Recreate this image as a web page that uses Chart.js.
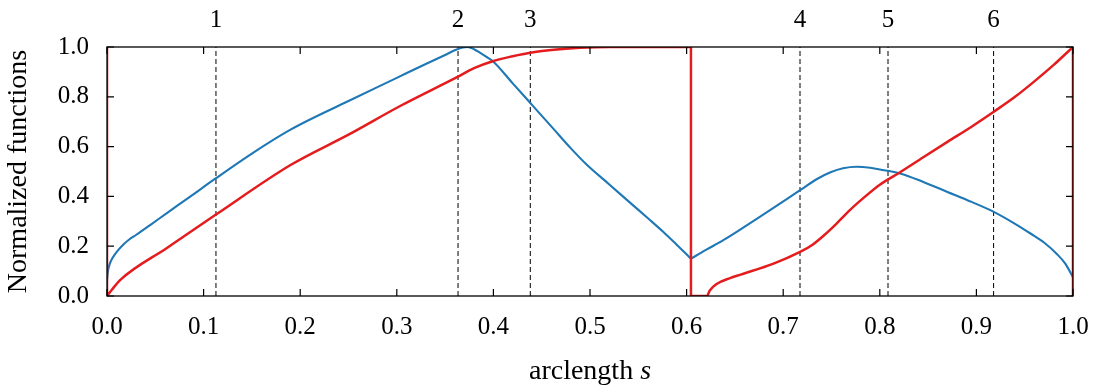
<!DOCTYPE html>
<html lang="en">
<head>
  <meta charset="UTF-8">
  <title>Normalized functions along the arc</title>
  <script src="https://cdn.jsdelivr.net/npm/chart.js"></script>
  <style>
    html, body { margin: 0; padding: 0; background: #fff; }
    #wrap { width: 1101px; height: 388px; position: relative; }
  </style>
</head>
<body>
  <div id="wrap"><canvas id="plot"></canvas></div>

  <script>
    // blue curve: arclength samples and normalized values (null splits the kink at s = 0.6045)
    const blueS = [0, 0.001, 0.0025, 0.005, 0.008, 0.012, 0.017, 0.023, 0.03, 0.045, 0.062, 0.085, 0.1128, 0.15, 0.19,
      0.25, 0.3, 0.33, 0.35, 0.362, 0.373, 0.38, 0.386, 0.392, 0.4, 0.42, 0.438, 0.462, 0.48, 0.497, 0.52, 0.542,
      0.56, 0.576, 0.59, 0.6045, 0.6045, 0.6045, 0.62, 0.638, 0.673, 0.7175, 0.735, 0.749, 0.762, 0.776, 0.79, 0.8,
      0.821, 0.845, 0.87, 0.895, 0.918, 0.94, 0.956, 0.97, 0.983, 0.992, 1.0];
    const blueV = [0.065, 0.1, 0.125, 0.148, 0.166, 0.186, 0.207, 0.227, 0.245, 0.286, 0.333, 0.396, 0.473, 0.572, 0.668,
      0.783, 0.876, 0.932, 0.968, 0.99, 1.0, 0.991, 0.977, 0.962, 0.941, 0.854, 0.776, 0.672, 0.594, 0.526, 0.448, 0.373,
      0.312, 0.257, 0.205, 0.15, null, 0.15, 0.185, 0.224, 0.311, 0.425, 0.47, 0.497, 0.513, 0.519, 0.515, 0.508,
      0.492, 0.458, 0.418, 0.378, 0.338, 0.29, 0.251, 0.215, 0.17, 0.13, 0.075];

    // red curve: closing edges at s = 0 and s = 1 and the jump at s = 0.6045 (null splits the pieces)
    const redS = [0, 0, 0,
      0, 0.005, 0.0138, 0.062, 0.1128, 0.19, 0.25, 0.3035, 0.3634, 0.38, 0.4, 0.42, 0.438, 0.46, 0.49, 0.52, 0.56, 0.6045,
      0.6045, 0.6045, 0.6045, 0.6045,
      0.6045, 0.614, 0.621, 0.624, 0.631, 0.645, 0.656, 0.69, 0.7175, 0.73, 0.742, 0.755, 0.769, 0.785, 0.8, 0.821,
      0.845, 0.87, 0.895, 0.918, 0.94, 0.96, 0.98, 1.0,
      1.0, 1.0, 1.0];
    const redV = [1.0, 0, null,
      0, 0.025, 0.065, 0.193, 0.327, 0.526, 0.648, 0.763, 0.881, 0.915, 0.944, 0.963, 0.977, 0.988, 0.997, 1.0, 1.0, 1.0,
      null, 1.0, 0, null,
      0, 0, 0, 0.022, 0.048, 0.072, 0.086, 0.13, 0.177, 0.205, 0.243, 0.29, 0.345, 0.4, 0.447, 0.497,
      0.557, 0.619, 0.68, 0.74, 0.8, 0.862, 0.928, 1.0,
      null, 1.0, 0];

    // numbered stations
    const markS = [0.1128, 0.3634, 0.4382, 0.7174, 0.8085, 0.9178];
    const markLabels = ['1', '2', '3', '4', '5', '6'];

    const xTicks = [0, 0.1, 0.2, 0.3, 0.4, 0.5, 0.6, 0.7, 0.8, 0.9, 1.0];
    const yTicks = [0, 0.2, 0.4, 0.6, 0.8, 1.0];

    const FONT = "'Liberation Serif', 'Times New Roman', serif";
    const BLUE = 'rgb(31,120,182)';
    const RED = 'rgb(228,28,30)';

    const toPts = (xs, ys) => xs.map((s, i) => ({ x: s, y: ys[i] }));

    const datasets = [
      { label: 'red', data: toPts(redS, redV), borderColor: RED, borderWidth: 2.5, cubicInterpolationMode: 'monotone' },
      { label: 'blue', data: toPts(blueS, blueV), borderColor: BLUE, borderWidth: 2.1, cubicInterpolationMode: 'monotone' }
    ];
    markS.forEach(s => {
      datasets.push({
        label: 'mark', data: [{ x: s, y: 0 }, { x: s, y: 1 }],
        borderColor: '#000', borderWidth: 1, borderDash: [5, 3]
      });
    });

    // frame, inward tick marks and the x-axis title
    const framePlugin = {
      id: 'frame',
      afterDatasetsDraw(chart) {
        const { ctx, chartArea: a, scales } = chart;
        const len = 7;
        ctx.save();
        ctx.strokeStyle = '#000';
        ctx.lineWidth = 1.3;
        ctx.strokeRect(a.left, a.top, a.right - a.left, a.bottom - a.top);
        ctx.lineWidth = 1.2;
        ctx.beginPath();
        xTicks.forEach(v => {
          const px = scales.x.getPixelForValue(v);
          ctx.moveTo(px, a.bottom); ctx.lineTo(px, a.bottom - len);
          ctx.moveTo(px, a.top); ctx.lineTo(px, a.top + len);
        });
        yTicks.forEach(v => {
          const py = scales.y.getPixelForValue(v);
          ctx.moveTo(a.left, py); ctx.lineTo(a.left + len, py);
          ctx.moveTo(a.right, py); ctx.lineTo(a.right - len, py);
        });
        ctx.stroke();

        // "arclength s" with an italic s
        const main = 'arclength ';
        ctx.fillStyle = '#000';
        ctx.textBaseline = 'alphabetic';
        ctx.font = `28px ${FONT}`;
        const w1 = ctx.measureText(main).width;
        ctx.font = `italic 28px ${FONT}`;
        const w2 = ctx.measureText('s').width;
        const x0 = (a.left + a.right) / 2 - (w1 + w2) / 2;
        ctx.font = `28px ${FONT}`;
        ctx.fillText(main, x0, 379);
        ctx.font = `italic 28px ${FONT}`;
        ctx.fillText('s', x0 + w1, 379);
        ctx.restore();
      }
    };

    new Chart(document.getElementById('plot'), {
      type: 'line',
      data: { datasets },
      options: {
        responsive: true,
        maintainAspectRatio: false,
        animation: false,
        layout: { padding: { left: 0, right: 28, top: 0, bottom: 0 } },
        elements: { point: { radius: 0 }, line: { tension: 0, fill: false } },
        plugins: { legend: { display: false }, tooltip: { enabled: false } },
        scales: {
          x: {
            type: 'linear', position: 'bottom', min: 0, max: 1,
            afterBuildTicks: sc => { sc.ticks = xTicks.map(v => ({ value: v })); },
            afterFit: sc => { sc.height = 92; sc.paddingLeft = 0; sc.paddingRight = 0; },
            grid: { display: false, drawTicks: false },
            border: { display: false },
            ticks: {
              color: '#000', padding: 16, maxRotation: 0, autoSkip: false,
              font: { family: FONT, size: 25 },
              callback: v => v.toFixed(1)
            }
          },
          x2: {
            type: 'linear', position: 'top', min: 0, max: 1,
            afterBuildTicks: sc => { sc.ticks = markS.map(v => ({ value: v })); },
            afterFit: sc => { sc.height = 47; sc.paddingLeft = 0; sc.paddingRight = 0; },
            grid: { display: false, drawTicks: false },
            border: { display: false },
            ticks: {
              color: '#000', padding: 12, maxRotation: 0, autoSkip: false,
              font: { family: FONT, size: 25 },
              callback: (v, i) => markLabels[i]
            }
          },
          y: {
            type: 'linear', position: 'left', min: 0, max: 1,
            afterBuildTicks: sc => { sc.ticks = yTicks.map(v => ({ value: v })); },
            afterFit: sc => { sc.width = 107; },
            grid: { display: false, drawTicks: false },
            border: { display: false },
            ticks: {
              color: '#000', padding: 18, autoSkip: false,
              font: { family: FONT, size: 25 },
              callback: v => v.toFixed(1)
            },
            title: {
              display: true, text: 'Normalized functions', color: '#000',
              font: { family: FONT, size: 28 },
              padding: { top: 2, bottom: 0 }
            }
          }
        }
      },
      plugins: [framePlugin]
    });
  </script>
</body>
</html>
